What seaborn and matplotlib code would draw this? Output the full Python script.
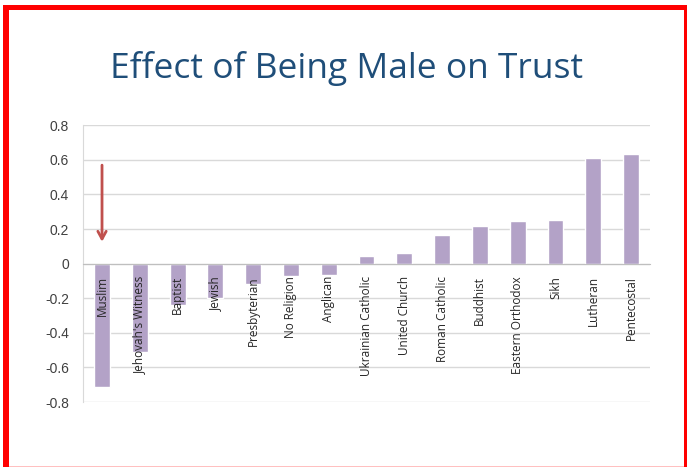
import numpy as np
import pandas as pd
import seaborn as sns
from matplotlib import pyplot as plt
from matplotlib.patches import Rectangle
from matplotlib.ticker import FixedLocator

# data
religions = ['Muslim', "Jehovah's Witness", 'Baptist', 'Jewish', 'Presbyterian',
             'No Religion', 'Anglican', 'Ukrainian Catholic', 'United Church',
             'Roman Catholic', 'Buddhist', 'Eastern Orthodox', 'Sikh',
             'Lutheran', 'Pentecostal']
effect = [-0.71, -0.51, -0.24, -0.20, -0.12, -0.073, -0.068, 0.042, 0.064,
          0.168, 0.217, 0.246, 0.254, 0.61, 0.634]
y_ticks = [-0.8, -0.6, -0.4, -0.2, 0, 0.2, 0.4, 0.6, 0.8]
y_tick_labels = ['-0.8', '-0.6', '-0.4', '-0.2', '0', '0.2', '0.4', '0.6', '0.8']

title = 'Effect of Being Male on Trust'
bar_color = '#B3A2C7'
grid_color = '#D9D9D9'


def main():
    df = pd.DataFrame({'religion': religions, 'effect': effect})

    sns.set_style('white')
    plt.rcParams['font.family'] = ['Open Sans', 'DejaVu Sans']

    fig = plt.figure(figsize=(6.87, 4.67), dpi=100)
    ax = fig.add_axes([0.121, 0.139, 0.825, 0.593])

    # gridlines behind the bars, labels drawn on top of them
    for t in y_ticks:
        ax.axhline(t, color=grid_color, lw=1, zorder=0)

    sns.barplot(data=df, x='religion', y='effect', color=bar_color,
                saturation=1, width=0.42, ax=ax, zorder=1)

    ax.set_axisbelow(False)
    ax.set_ylim(-0.8, 0.8)
    ax.set_xlim(-0.5, len(religions) - 0.5)
    ax.set_yticks(y_ticks)
    ax.set_yticklabels(y_tick_labels, fontfamily='Liberation Sans',
                       fontsize=10, color='#404040')
    for s in ['top', 'right']:
        ax.spines[s].set_visible(False)
    ax.spines['left'].set_color(grid_color)
    ax.spines['left'].set_zorder(0)
    ax.spines['bottom'].set_position(('data', 0))
    ax.spines['bottom'].set_color('#BFBFBF')
    ax.tick_params(axis='y', length=0, pad=10)
    ax.tick_params(axis='x', which='major', length=0, pad=9)
    ax.xaxis.set_minor_locator(FixedLocator(np.arange(-0.5, len(religions), 1)))
    ax.tick_params(axis='x', which='minor', length=4, color='#BFBFBF',
                   direction='out')
    ax.set_xticks(range(len(religions)))
    ax.set_xticklabels(religions, rotation=90, fontsize=8.5, color='#262626')
    ax.set_xlabel('')
    ax.set_ylabel('')

    # red arrow pointing at muslim bar
    ax.annotate('', xy=(0, 0.11), xytext=(0, 0.585),
                arrowprops=dict(arrowstyle='->,head_length=0.55,head_width=0.3',
                                color='#C0504D', lw=2))

    fig.text(0.505, 0.853, title, ha='center', va='center', fontsize=25.5,
             color='#1F4E79')

    # red frame round the slide
    fig.add_artist(Rectangle((0.004, 0.0), 0.0087, 0.99,
                             transform=fig.transFigure, color='#FF0000', lw=0))
    fig.add_artist(Rectangle((0.004, 0.978), 0.992, 0.011,
                             transform=fig.transFigure, color='#FF0000', lw=0))
    fig.add_artist(Rectangle((0.995, 0.0), 0.005, 0.99,
                             transform=fig.transFigure, color='#FF0000', lw=0))
    fig.add_artist(Rectangle((0.013, 0.0), 0.982, 0.003,
                             transform=fig.transFigure, color='#FFC0C0', lw=0))

    fig.savefig('out.png', dpi=100)


if __name__ == "__main__":
    main()
